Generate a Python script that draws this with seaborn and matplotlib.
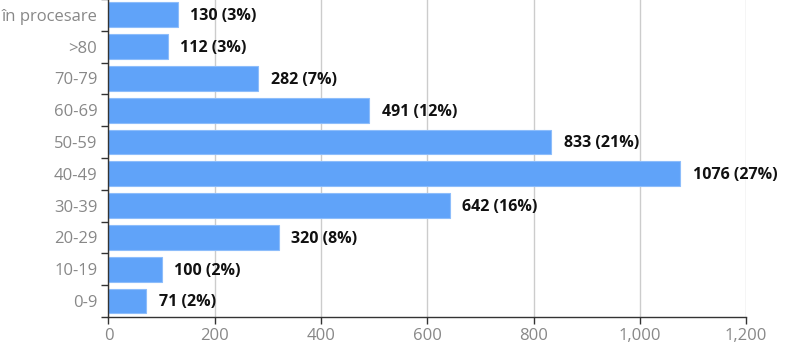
import matplotlib
matplotlib.use("Agg")
import matplotlib.pyplot as plt
import seaborn as sns
import pandas as pd
import numpy as np

categories = ["în procesare", ">80", "70-79", "60-69", "50-59", "40-49", "30-39", "20-29", "10-19", "0-9"]
values = [130, 112, 282, 491, 833, 1076, 642, 320, 100, 71]
percents = [3, 3, 7, 12, 21, 27, 16, 8, 2, 2]
x_ticks = [0, 200, 400, 600, 800, 1000, 1200]

df = pd.DataFrame({"cat": categories, "val": values})

sns.set_style("white")
plt.rcParams["font.family"] = ["Open Sans", "DejaVu Sans"]

fig = plt.figure(figsize=(8, 3.45), dpi=100)
ax = fig.add_axes([0.1356, 0.0812, 0.797, 0.922])

sns.barplot(data=df, y="cat", x="val", orient="h", color="#60a3f9", saturation=1,
            width=0.78, edgecolor="#8dbdfb", linewidth=0.8, ax=ax)

for i, (v, p) in enumerate(zip(values, percents)):
    ax.annotate(f"{v} ({p}%)", xy=(v, i), xytext=(9, -1), textcoords="offset points",
                va="center", ha="left", fontsize=11.5, fontweight="bold", color="#111111")

ax.set_xlim(0, 1200)
ax.set_ylim(len(categories) - 0.5, -0.5)
ax.set_xticks(x_ticks)
ax.set_xticklabels([f"{t:,}" for t in x_ticks])
ax.set_xlabel("")
ax.set_ylabel("")
ax.xaxis.grid(True, color="#cccccc", linewidth=1)
ax.set_axisbelow(True)

ax.set_yticks(range(len(categories)))
ax.set_yticks(np.arange(-0.5, len(categories), 1), minor=True)
ax.tick_params(axis="y", which="major", length=0, pad=8, labelsize=12, labelcolor="#888888")
ax.tick_params(axis="y", which="minor", length=5, width=1, color="#333333", left=True)
ax.tick_params(axis="x", which="major", length=5, width=1, color="#333333", bottom=True,
               labelsize=12, labelcolor="#888888", pad=3)

for s in ["top", "right"]:
    ax.spines[s].set_visible(False)
for s in ["left", "bottom"]:
    ax.spines[s].set_color("#333333")
    ax.spines[s].set_linewidth(1)

fig.savefig("out.png", dpi=100)
